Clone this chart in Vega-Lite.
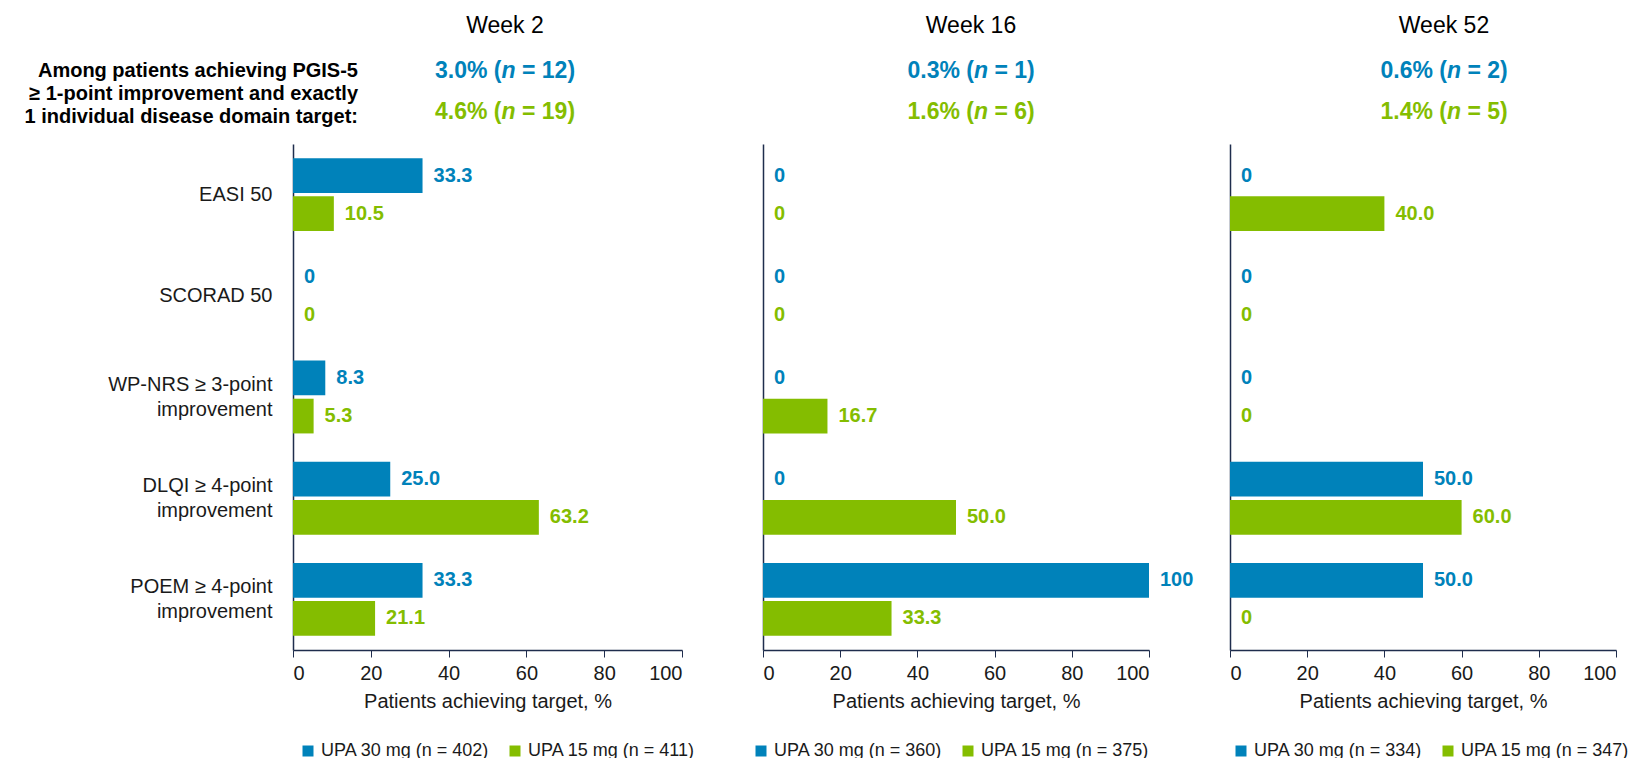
{
  "$schema": "https://vega.github.io/schema/vega-lite/v6.json",
  "autosize": {"type": "pad"},
  "padding": {"left": 24, "top": 15, "right": 5, "bottom": 5},
  "background": "white",
  "config": {
    "font": "Liberation Sans",
    "view": {"stroke": null},
    "axis": {"grid": false, "labelFont": "Liberation Sans", "titleFont": "Liberation Sans"},
    "legend": {"labelFont": "Liberation Sans"}
  },
  "datasets": {
    "bars": [
      {"week": "Week 2", "measure": "EASI 50", "dose": "30 mg", "arm": "UPA 30 mg (n = 402)", "pct": 33.3, "lab": "33.3"},
      {"week": "Week 2", "measure": "EASI 50", "dose": "15 mg", "arm": "UPA 15 mg (n = 411)", "pct": 10.5, "lab": "10.5"},
      {"week": "Week 2", "measure": "SCORAD 50", "dose": "30 mg", "arm": "UPA 30 mg (n = 402)", "pct": 0, "lab": "0"},
      {"week": "Week 2", "measure": "SCORAD 50", "dose": "15 mg", "arm": "UPA 15 mg (n = 411)", "pct": 0, "lab": "0"},
      {"week": "Week 2", "measure": "WP-NRS ≥ 3-point|improvement", "dose": "30 mg", "arm": "UPA 30 mg (n = 402)", "pct": 8.3, "lab": "8.3"},
      {"week": "Week 2", "measure": "WP-NRS ≥ 3-point|improvement", "dose": "15 mg", "arm": "UPA 15 mg (n = 411)", "pct": 5.3, "lab": "5.3"},
      {"week": "Week 2", "measure": "DLQI ≥ 4-point|improvement", "dose": "30 mg", "arm": "UPA 30 mg (n = 402)", "pct": 25.0, "lab": "25.0"},
      {"week": "Week 2", "measure": "DLQI ≥ 4-point|improvement", "dose": "15 mg", "arm": "UPA 15 mg (n = 411)", "pct": 63.2, "lab": "63.2"},
      {"week": "Week 2", "measure": "POEM ≥ 4-point|improvement", "dose": "30 mg", "arm": "UPA 30 mg (n = 402)", "pct": 33.3, "lab": "33.3"},
      {"week": "Week 2", "measure": "POEM ≥ 4-point|improvement", "dose": "15 mg", "arm": "UPA 15 mg (n = 411)", "pct": 21.1, "lab": "21.1"},
      {"week": "Week 16", "measure": "EASI 50", "dose": "30 mg", "arm": "UPA 30 mg (n = 360)", "pct": 0, "lab": "0"},
      {"week": "Week 16", "measure": "EASI 50", "dose": "15 mg", "arm": "UPA 15 mg (n = 375)", "pct": 0, "lab": "0"},
      {"week": "Week 16", "measure": "SCORAD 50", "dose": "30 mg", "arm": "UPA 30 mg (n = 360)", "pct": 0, "lab": "0"},
      {"week": "Week 16", "measure": "SCORAD 50", "dose": "15 mg", "arm": "UPA 15 mg (n = 375)", "pct": 0, "lab": "0"},
      {"week": "Week 16", "measure": "WP-NRS ≥ 3-point|improvement", "dose": "30 mg", "arm": "UPA 30 mg (n = 360)", "pct": 0, "lab": "0"},
      {"week": "Week 16", "measure": "WP-NRS ≥ 3-point|improvement", "dose": "15 mg", "arm": "UPA 15 mg (n = 375)", "pct": 16.7, "lab": "16.7"},
      {"week": "Week 16", "measure": "DLQI ≥ 4-point|improvement", "dose": "30 mg", "arm": "UPA 30 mg (n = 360)", "pct": 0, "lab": "0"},
      {"week": "Week 16", "measure": "DLQI ≥ 4-point|improvement", "dose": "15 mg", "arm": "UPA 15 mg (n = 375)", "pct": 50.0, "lab": "50.0"},
      {"week": "Week 16", "measure": "POEM ≥ 4-point|improvement", "dose": "30 mg", "arm": "UPA 30 mg (n = 360)", "pct": 100, "lab": "100"},
      {"week": "Week 16", "measure": "POEM ≥ 4-point|improvement", "dose": "15 mg", "arm": "UPA 15 mg (n = 375)", "pct": 33.3, "lab": "33.3"},
      {"week": "Week 52", "measure": "EASI 50", "dose": "30 mg", "arm": "UPA 30 mg (n = 334)", "pct": 0, "lab": "0"},
      {"week": "Week 52", "measure": "EASI 50", "dose": "15 mg", "arm": "UPA 15 mg (n = 347)", "pct": 40.0, "lab": "40.0"},
      {"week": "Week 52", "measure": "SCORAD 50", "dose": "30 mg", "arm": "UPA 30 mg (n = 334)", "pct": 0, "lab": "0"},
      {"week": "Week 52", "measure": "SCORAD 50", "dose": "15 mg", "arm": "UPA 15 mg (n = 347)", "pct": 0, "lab": "0"},
      {"week": "Week 52", "measure": "WP-NRS ≥ 3-point|improvement", "dose": "30 mg", "arm": "UPA 30 mg (n = 334)", "pct": 0, "lab": "0"},
      {"week": "Week 52", "measure": "WP-NRS ≥ 3-point|improvement", "dose": "15 mg", "arm": "UPA 15 mg (n = 347)", "pct": 0, "lab": "0"},
      {"week": "Week 52", "measure": "DLQI ≥ 4-point|improvement", "dose": "30 mg", "arm": "UPA 30 mg (n = 334)", "pct": 50.0, "lab": "50.0"},
      {"week": "Week 52", "measure": "DLQI ≥ 4-point|improvement", "dose": "15 mg", "arm": "UPA 15 mg (n = 347)", "pct": 60.0, "lab": "60.0"},
      {"week": "Week 52", "measure": "POEM ≥ 4-point|improvement", "dose": "30 mg", "arm": "UPA 30 mg (n = 334)", "pct": 50.0, "lab": "50.0"},
      {"week": "Week 52", "measure": "POEM ≥ 4-point|improvement", "dose": "15 mg", "arm": "UPA 15 mg (n = 347)", "pct": 0, "lab": "0"}
    ],
    "hdr": [
      {"week": "Week 2", "dose": "30 mg", "arm": "UPA 30 mg (n = 402)", "pre": "3.0% (", "post": "= 12)"},
      {"week": "Week 2", "dose": "15 mg", "arm": "UPA 15 mg (n = 411)", "pre": "4.6% (", "post": "= 19)"},
      {"week": "Week 16", "dose": "30 mg", "arm": "UPA 30 mg (n = 360)", "pre": "0.3% (", "post": "= 1)"},
      {"week": "Week 16", "dose": "15 mg", "arm": "UPA 15 mg (n = 375)", "pre": "1.6% (", "post": "= 6)"},
      {"week": "Week 52", "dose": "30 mg", "arm": "UPA 30 mg (n = 334)", "pre": "0.6% (", "post": "= 2)"},
      {"week": "Week 52", "dose": "15 mg", "arm": "UPA 15 mg (n = 347)", "pre": "1.4% (", "post": "= 5)"}
    ]
  },
  "bounds": "flush",
  "spacing": 81,
  "resolve": {"scale": {"x": "independent", "y": "independent", "yOffset": "independent", "color": "independent"}, "legend": {"color": "independent"}},
  "hconcat": [
    {
      "width": 389, "height": 506,
      "resolve": {"scale": {"y": "independent"}},
      "layer": [
        {
          "data": {"name": "bars"},
          "transform": [{"filter": "datum.week == 'Week 2'"}],
          "encoding": {
            "y": {"field": "measure", "type": "nominal", "sort": ["EASI 50", "SCORAD 50", "WP-NRS ≥ 3-point|improvement", "DLQI ≥ 4-point|improvement", "POEM ≥ 4-point|improvement"], "scale": {"paddingInner": 0.28, "paddingOuter": 0.14},
              "axis": {"title": null, "ticks": false, "labelPadding": 21, "labelFontSize": 20, "labelColor": "#1a1a1a", "labelLineHeight": 25, "labelLimit": 300, "labelExpr": "split(datum.label, '|')", "labelOffset": {"condition": {"test": "indexof(datum.value, '|') >= 0", "value": -12.5}, "value": 0}, "domainColor": "#1F2D4D", "domainWidth": 1.5}},
            "yOffset": {"field": "dose", "type": "nominal", "sort": ["30 mg", "15 mg"], "scale": {"paddingInner": 0.09}},
            "x": {"field": "pct", "type": "quantitative", "scale": {"domain": [0, 100]},
              "axis": {"values": [0, 20, 40, 60, 80, 100], "title": "Patients achieving target, %", "titleFontSize": 20, "titleFontWeight": "normal", "titleColor": "#1a1a1a", "titlePadding": 8, "labelFontSize": 20, "labelColor": "#1a1a1a", "labelPadding": 6, "domainColor": "#1F2D4D", "domainWidth": 1.5, "tickColor": "#1F2D4D", "tickSize": 7}},
            "color": {"field": "arm", "type": "nominal", "sort": "descending", "scale": {"range": ["#0082BA", "#84BD00"]},
              "legend": {"orient": "none", "legendX": 6, "legendY": 598, "direction": "horizontal", "title": null, "symbolType": "square", "symbolSize": 121, "symbolStrokeWidth": 0, "labelFontSize": 18, "labelLimit": 400, "labelColor": "#1a1a1a", "columnPadding": 16, "labelOffset": 4}}
          },
          "layer": [
            {"mark": {"type": "bar"}},
            {"mark": {"type": "text", "align": "left", "baseline": "middle", "dx": 11, "fontSize": 20, "fontWeight": "bold"}, "encoding": {"text": {"field": "lab"}}}
          ]
        },
        {
          "data": {"name": "hdr"},
          "transform": [{"filter": "datum.week == 'Week 2'"}],
          "encoding": {
            "y": {"field": "dose", "type": "nominal", "scale": {"type": "point", "padding": 0, "domain": ["30 mg", "15 mg"], "range": [-73, -32]}, "axis": null},
            "x": {"datum": 50, "type": "quantitative"},
            "color": {"field": "arm", "type": "nominal", "sort": "descending"}
          },
          "layer": [
            {"mark": {"type": "text", "align": "right", "baseline": "middle", "dx": 14, "fontSize": 23, "fontWeight": "bold"}, "encoding": {"text": {"field": "pre"}}},
            {"mark": {"type": "text", "align": "left", "baseline": "middle", "dx": 14, "fontSize": 23, "fontWeight": "bold", "fontStyle": "italic", "text": "n"}},
            {"mark": {"type": "text", "align": "left", "baseline": "middle", "dx": 34.5, "fontSize": 23, "fontWeight": "bold"}, "encoding": {"text": {"field": "post"}}},
            {"transform": [{"filter": "datum.dose == '30 mg'"}], "mark": {"type": "text", "align": "center", "baseline": "middle", "dx": 17.5, "dy": -45, "fontSize": 23}, "encoding": {"text": {"field": "week"}, "color": {"value": "#000000"}}},
            {"transform": [{"filter": "datum.dose == '30 mg'"}], "mark": {"type": "text", "align": "right", "baseline": "middle", "dx": 65, "dy": 0, "lineHeight": 23, "fontSize": 20, "fontWeight": "bold", "text": ["Among patients achieving PGIS-5", "≥ 1-point improvement and exactly", "1 individual disease domain target:"]}, "encoding": {"x": {"datum": 0, "type": "quantitative"}, "color": {"value": "#000000"}}}
          ]
        }
      ]
    },
    {
      "width": 386, "height": 506,
      "resolve": {"scale": {"y": "independent"}},
      "layer": [
        {
          "data": {"name": "bars"},
          "transform": [{"filter": "datum.week == 'Week 16'"}],
          "encoding": {
            "y": {"field": "measure", "type": "nominal", "sort": ["EASI 50", "SCORAD 50", "WP-NRS ≥ 3-point|improvement", "DLQI ≥ 4-point|improvement", "POEM ≥ 4-point|improvement"], "scale": {"paddingInner": 0.28, "paddingOuter": 0.14},
              "axis": {"title": null, "ticks": false, "labels": false, "domainColor": "#1F2D4D", "domainWidth": 1.5}},
            "yOffset": {"field": "dose", "type": "nominal", "sort": ["30 mg", "15 mg"], "scale": {"paddingInner": 0.09}},
            "x": {"field": "pct", "type": "quantitative", "scale": {"domain": [0, 100]},
              "axis": {"values": [0, 20, 40, 60, 80, 100], "title": "Patients achieving target, %", "titleFontSize": 20, "titleFontWeight": "normal", "titleColor": "#1a1a1a", "titlePadding": 8, "labelFontSize": 20, "labelColor": "#1a1a1a", "labelPadding": 6, "domainColor": "#1F2D4D", "domainWidth": 1.5, "tickColor": "#1F2D4D", "tickSize": 7}},
            "color": {"field": "arm", "type": "nominal", "sort": "descending", "scale": {"range": ["#0082BA", "#84BD00"]},
              "legend": {"orient": "none", "legendX": -11, "legendY": 598, "direction": "horizontal", "title": null, "symbolType": "square", "symbolSize": 121, "symbolStrokeWidth": 0, "labelFontSize": 18, "labelLimit": 400, "labelColor": "#1a1a1a", "columnPadding": 16, "labelOffset": 4}}
          },
          "layer": [
            {"mark": {"type": "bar"}},
            {"mark": {"type": "text", "align": "left", "baseline": "middle", "dx": 11, "fontSize": 20, "fontWeight": "bold"}, "encoding": {"text": {"field": "lab"}}}
          ]
        },
        {
          "data": {"name": "hdr"},
          "transform": [{"filter": "datum.week == 'Week 16'"}],
          "encoding": {
            "y": {"field": "dose", "type": "nominal", "scale": {"type": "point", "padding": 0, "domain": ["30 mg", "15 mg"], "range": [-73, -32]}, "axis": null},
            "x": {"datum": 50, "type": "quantitative"},
            "color": {"field": "arm", "type": "nominal", "sort": "descending"}
          },
          "layer": [
            {"mark": {"type": "text", "align": "right", "baseline": "middle", "dx": 18, "fontSize": 23, "fontWeight": "bold"}, "encoding": {"text": {"field": "pre"}}},
            {"mark": {"type": "text", "align": "left", "baseline": "middle", "dx": 18, "fontSize": 23, "fontWeight": "bold", "fontStyle": "italic", "text": "n"}},
            {"mark": {"type": "text", "align": "left", "baseline": "middle", "dx": 38.5, "fontSize": 23, "fontWeight": "bold"}, "encoding": {"text": {"field": "post"}}},
            {"transform": [{"filter": "datum.dose == '30 mg'"}], "mark": {"type": "text", "align": "center", "baseline": "middle", "dx": 15, "dy": -45, "fontSize": 23}, "encoding": {"text": {"field": "week"}, "color": {"value": "#000000"}}}
          ]
        }
      ]
    },
    {
      "width": 386, "height": 506,
      "resolve": {"scale": {"y": "independent"}},
      "layer": [
        {
          "data": {"name": "bars"},
          "transform": [{"filter": "datum.week == 'Week 52'"}],
          "encoding": {
            "y": {"field": "measure", "type": "nominal", "sort": ["EASI 50", "SCORAD 50", "WP-NRS ≥ 3-point|improvement", "DLQI ≥ 4-point|improvement", "POEM ≥ 4-point|improvement"], "scale": {"paddingInner": 0.28, "paddingOuter": 0.14},
              "axis": {"title": null, "ticks": false, "labels": false, "domainColor": "#1F2D4D", "domainWidth": 1.5}},
            "yOffset": {"field": "dose", "type": "nominal", "sort": ["30 mg", "15 mg"], "scale": {"paddingInner": 0.09}},
            "x": {"field": "pct", "type": "quantitative", "scale": {"domain": [0, 100]},
              "axis": {"values": [0, 20, 40, 60, 80, 100], "title": "Patients achieving target, %", "titleFontSize": 20, "titleFontWeight": "normal", "titleColor": "#1a1a1a", "titlePadding": 8, "labelFontSize": 20, "labelColor": "#1a1a1a", "labelPadding": 6, "domainColor": "#1F2D4D", "domainWidth": 1.5, "tickColor": "#1F2D4D", "tickSize": 7}},
            "color": {"field": "arm", "type": "nominal", "sort": "descending", "scale": {"range": ["#0082BA", "#84BD00"]},
              "legend": {"orient": "none", "legendX": 2, "legendY": 598, "direction": "horizontal", "title": null, "symbolType": "square", "symbolSize": 121, "symbolStrokeWidth": 0, "labelFontSize": 18, "labelLimit": 400, "labelColor": "#1a1a1a", "columnPadding": 16, "labelOffset": 4}}
          },
          "layer": [
            {"mark": {"type": "bar"}},
            {"mark": {"type": "text", "align": "left", "baseline": "middle", "dx": 11, "fontSize": 20, "fontWeight": "bold"}, "encoding": {"text": {"field": "lab"}}}
          ]
        },
        {
          "data": {"name": "hdr"},
          "transform": [{"filter": "datum.week == 'Week 52'"}],
          "encoding": {
            "y": {"field": "dose", "type": "nominal", "scale": {"type": "point", "padding": 0, "domain": ["30 mg", "15 mg"], "range": [-73, -32]}, "axis": null},
            "x": {"datum": 50, "type": "quantitative"},
            "color": {"field": "arm", "type": "nominal", "sort": "descending"}
          },
          "layer": [
            {"mark": {"type": "text", "align": "right", "baseline": "middle", "dx": 24, "fontSize": 23, "fontWeight": "bold"}, "encoding": {"text": {"field": "pre"}}},
            {"mark": {"type": "text", "align": "left", "baseline": "middle", "dx": 24, "fontSize": 23, "fontWeight": "bold", "fontStyle": "italic", "text": "n"}},
            {"mark": {"type": "text", "align": "left", "baseline": "middle", "dx": 44.5, "fontSize": 23, "fontWeight": "bold"}, "encoding": {"text": {"field": "post"}}},
            {"transform": [{"filter": "datum.dose == '30 mg'"}], "mark": {"type": "text", "align": "center", "baseline": "middle", "dx": 21, "dy": -45, "fontSize": 23}, "encoding": {"text": {"field": "week"}, "color": {"value": "#000000"}}}
          ]
        }
      ]
    }
  ]
}
